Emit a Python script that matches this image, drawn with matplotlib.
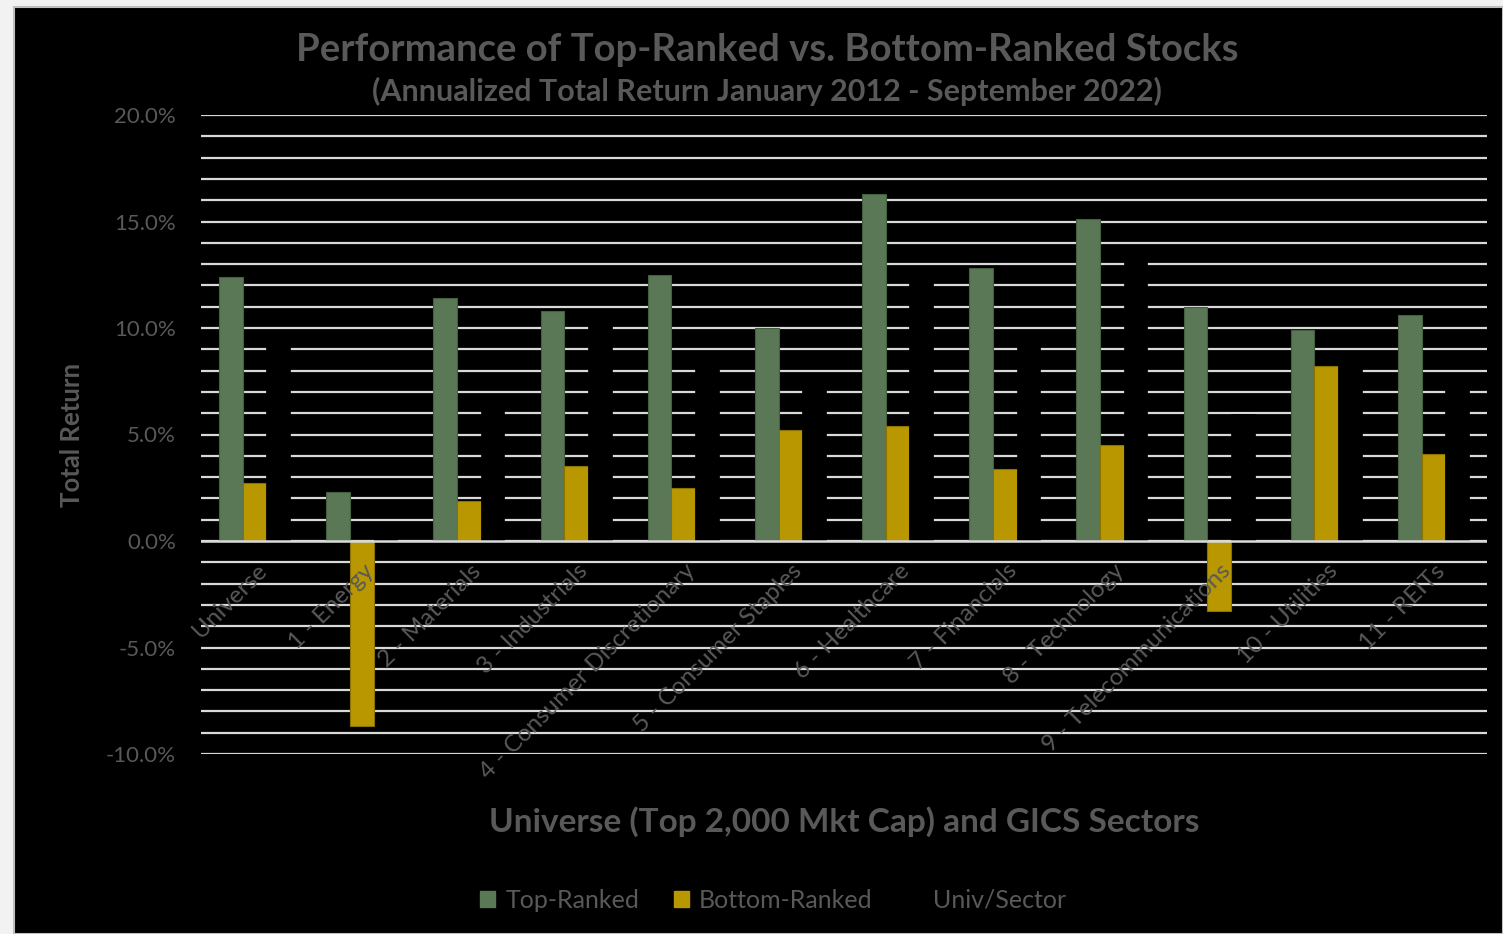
import matplotlib
matplotlib.use("Agg")
import matplotlib.pyplot as plt
import numpy as np
from matplotlib.patches import Rectangle, Patch
from matplotlib.ticker import MultipleLocator, FuncFormatter

categories = ["Universe", "1 - Energy", "2 - Materials", "3 - Industrials",
              "4 - Consumer Discretionary", "5 - Consumer Staples", "6 - Healthcare",
              "7 - Financials", "8 - Technology", "9 - Telecommunications",
              "10 - Utilities", "11 - REITs"]
top_ranked = [12.4, 2.3, 11.4, 10.8, 12.5, 10.0, 16.3, 12.8, 15.1, 11.0, 9.9, 10.6]
bottom_ranked = [2.7, -8.7, 1.9, 3.5, 2.5, 5.2, 5.4, 3.4, 4.5, -3.3, 8.2, 4.1]
univ_sector = [9.5, 0.5, 6.5, 10.5, 8.5, 7.5, 12.5, 9.5, 13.5, 5.95, 8.5, 7.5]
series_names = ["Top-Ranked", "Bottom-Ranked", "Univ/Sector"]

GREEN = "#5a7856"
GOLD = "#b89700"
TXT = "#595959"
GRID = "#d9d9d9"
FONT = "Lato"

W, H = 1503, 934
fig = plt.figure(figsize=(W / 100, H / 100), dpi=100, facecolor="#f2f2f2")
bg = Rectangle((14 / W, 0), 1 - 14 / W, 1 - 7 / H, transform=fig.transFigure,
               facecolor="black", edgecolor="#bfbfbf", linewidth=1.5, zorder=-10)
fig.patches.append(bg)

ax = fig.add_axes([201 / W, 1 - 754 / H, (1487 - 201) / W, (754 - 115) / H])
ax.set_facecolor("black")
ax.set_zorder(1)

x = np.arange(len(categories))
bw = 0.221
ax.bar(x - bw, top_ranked, bw, color=GREEN, edgecolor="#44603f", linewidth=0.8, zorder=3)
ax.bar(x, bottom_ranked, bw, color=GOLD, edgecolor="#8c7300", linewidth=0.8, zorder=3)
ax.bar(x + bw, univ_sector, bw, color="black", edgecolor="black", linewidth=0.5, zorder=3)

ax.set_xlim(-0.5, len(categories) - 0.5)
ax.set_ylim(-10, 20)
ax.yaxis.set_major_locator(MultipleLocator(5))
ax.yaxis.set_minor_locator(MultipleLocator(1))
ax.yaxis.set_major_formatter(FuncFormatter(lambda v, p: f"{v:.1f}%"))
ax.grid(axis="y", which="both", color=GRID, linewidth=1.6, zorder=1)
ax.axhline(0, color=GRID, linewidth=1.8, zorder=4)
ax.set_axisbelow(True)
for s in ax.spines.values():
    s.set_visible(False)
ax.tick_params(axis="y", which="both", length=0, pad=18, labelsize=16, labelcolor=TXT)
for lab in ax.get_yticklabels():
    lab.set_fontfamily(FONT)
ax.set_xticks([])

for i, c in enumerate(categories):
    ax.text(i + 0.08, -1.25, c, rotation=45, rotation_mode="anchor", ha="right", va="center",
            fontsize=17.5, color=TXT, family=FONT, zorder=6)

fig.text(767 / W, 1 - 50 / H, "Performance of Top-Ranked vs. Bottom-Ranked Stocks",
         ha="center", va="center", fontsize=27.5, fontweight="bold", color=TXT, family=FONT)
fig.text(767 / W, 1 - 91 / H, "(Annualized Total Return January 2012 - September 2022)",
         ha="center", va="center", fontsize=22, fontweight="bold", color=TXT, family=FONT)
fig.text(844 / W, 1 - 822 / H, "Universe (Top 2,000 Mkt Cap) and GICS Sectors",
         ha="center", va="center", fontsize=24, fontweight="bold", color=TXT, family=FONT)
fig.text(72 / W, 1 - 435 / H, "Total Return", rotation=90, ha="center", va="center",
         fontsize=18.5, fontweight="bold", color=TXT, family=FONT)

handles = [Patch(facecolor=GREEN, edgecolor=GREEN), Patch(facecolor=GOLD, edgecolor=GOLD),
           Patch(facecolor="black", edgecolor="black")]
leg = fig.legend(handles, series_names, loc="center", bbox_to_anchor=(773 / W, 1 - 900 / H),
                 ncol=3, frameon=False, handlelength=0.6, handleheight=0.6, handletextpad=0.4,
                 columnspacing=1.4, prop={"family": FONT, "size": 18})
for t in leg.get_texts():
    t.set_color(TXT)

fig.savefig("out.png", dpi=100, facecolor=fig.get_facecolor())
